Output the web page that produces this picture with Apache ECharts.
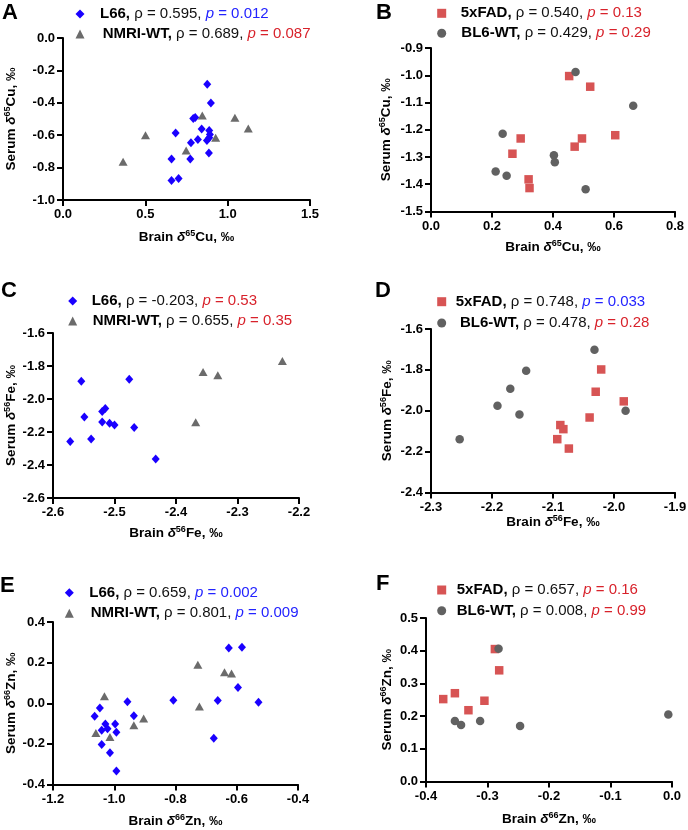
<!DOCTYPE html>
<html><head><meta charset="utf-8">
<script src="https://cdn.jsdelivr.net/npm/echarts@6/dist/echarts.min.js"></script>
<style>html,body{margin:0;padding:0;background:#fff}#c{width:688px;height:830px}</style>
</head><body><div id="c"></div><script>
const FONT = '"Liberation Sans", Arial, Helvetica, sans-serif';
const BLUE = '#1a00ff', GRAYT = '#6b6b6b', RED = '#d75454', GRAYC = '#616161';
const PBLUE = '#2323ff', PRED = '#d8222b';

// ---- data (brain, serum) ----
const cuL66 = [[0.876,-0.285],[0.898,-0.402],[0.791,-0.497],[0.803,-0.490],[0.842,-0.561],[0.888,-0.571],[0.684,-0.587],[0.892,-0.595],[0.888,-0.616],[0.874,-0.632],[0.819,-0.626],[0.777,-0.647],[0.886,-0.710],[0.659,-0.747],[0.773,-0.747],[0.659,-0.879],[0.702,-0.867]];
const cuNMRI = [[0.365,-0.764],[0.501,-0.601],[0.748,-0.694],[0.846,-0.478],[0.927,-0.616],[1.044,-0.493],[1.125,-0.558]];
const cu5xFAD = [[0.453,-1.003],[0.522,-1.042],[0.294,-1.232],[0.495,-1.232],[0.604,-1.220],[0.471,-1.262],[0.267,-1.288],[0.320,-1.382],[0.323,-1.414]];
const cuBL6 = [[0.474,-0.988],[0.663,-1.112],[0.235,-1.215],[0.403,-1.294],[0.406,-1.319],[0.212,-1.353],[0.248,-1.369],[0.507,-1.418]];
const feL66 = [[-2.554,-1.893],[-2.476,-1.881],[-2.515,-2.058],[-2.520,-2.075],[-2.549,-2.109],[-2.520,-2.139],[-2.508,-2.147],[-2.500,-2.157],[-2.468,-2.173],[-2.572,-2.258],[-2.538,-2.242],[-2.433,-2.364]];
const feNMRI = [[-2.356,-1.836],[-2.332,-1.856],[-2.227,-1.770],[-2.368,-2.141]];
const fe5xFAD = [[-2.021,-1.798],[-2.030,-1.907],[-1.984,-1.954],[-2.040,-2.033],[-2.088,-2.070],[-2.083,-2.090],[-2.093,-2.139],[-2.074,-2.185]];
const feBL6 = [[-2.032,-1.701],[-2.144,-1.804],[-2.170,-1.892],[-2.191,-1.976],[-2.155,-2.018],[-1.981,-2.000],[-2.253,-2.139]];
const znL66 = [[-0.626,0.272],[-0.583,0.276],[-0.596,0.077],[-0.957,0.008],[-0.807,0.015],[-0.662,0.013],[-0.529,0.005],[-1.047,-0.023],[-1.064,-0.064],[-0.936,-0.062],[-1.029,-0.102],[-0.997,-0.102],[-1.022,-0.125],[-1.041,-0.133],[-0.993,-0.143],[-0.675,-0.172],[-1.041,-0.203],[-1.014,-0.244],[-0.993,-0.334]];
const znNMRI = [[-0.727,0.190],[-0.640,0.153],[-0.617,0.146],[-1.032,0.034],[-0.722,-0.016],[-0.904,-0.075],[-0.936,-0.108],[-1.060,-0.146],[-1.014,-0.166]];
const zn5xFAD = [[-0.288,0.405],[-0.281,0.340],[-0.353,0.270],[-0.372,0.252],[-0.305,0.247],[-0.331,0.218]];
const znBL6 = [[-0.282,0.406],[-0.353,0.185],[-0.343,0.173],[-0.312,0.185],[-0.247,0.170],[-0.006,0.205]];

// ---- legend statistics ----
const groupNames = ['L66','NMRI-WT','5xFAD','BL6-WT'];
const rhoValues = [['0.595','0.689'],['0.540','0.429'],['-0.203','0.655'],['0.748','0.478'],['0.659','0.801'],['0.657','0.008']];
const pValues   = [['0.012','0.087'],['0.13','0.29'],['0.53','0.35'],['0.033','0.28'],['0.002','0.009'],['0.16','0.99']];
const pSignif   = [[true,false],[false,false],[false,false],[true,false],[true,true],[false,false]];
const panelLetters = ['A','B','C','D','E','F'];
const isotopes = [['65','Cu'],['65','Cu'],['56','Fe'],['56','Fe'],['66','Zn'],['66','Zn']];
const xRanges = [[0,1.5,0.5],[0,0.8,0.2],[-2.6,-2.2,0.1],[-2.3,-1.9,0.1],[-1.2,-0.4,0.2],[-0.4,0,0.1]];
const yRanges = [[-1.0,0,0.2],[-1.5,-0.9,0.1],[-2.6,-1.6,0.2],[-2.4,-1.6,0.2],[-0.4,0.4,0.2],[0,0.5,0.1]];
const panelData = [[cuL66,cuNMRI],[cu5xFAD,cuBL6],[feL66,feNMRI],[fe5xFAD,feBL6],[znL66,znNMRI],[zn5xFAD,znBL6]];

// ---- layout ----
const grids = [
  {left:63, top:38, width:247, height:162},
  {left:431, top:48, width:244, height:163.5},
  {left:53, top:333, width:246, height:165},
  {left:431, top:329, width:244, height:163.5},
  {left:53, top:622, width:245, height:162.5},
  {left:426, top:618, width:246, height:163.5}
];
const xNameGap = [29, 28, 27, 20, 29, 30];
const yNameGap = [44, 37, 34, 36, 34, 31];
const letterPos = [[2,13],[376,12.5],[1,291],[375,290.5],[0,585.5],[376,584]];
// legend rows: [iconCenterX, centerY, textStartX]
const legendPos = [
  [[80,14,100],[80,34,102.7]],
  [[441.7,13.3,460.7],[441.7,33.3,461.3]],
  [[72.7,301,91.7],[72.7,321,92.7]],
  [[441.7,301.7,455.7],[441.7,323,460]],
  [[69.3,592.7,89.3],[69.3,613.3,90.7]],
  [[441.7,590,456.7],[441.7,610.7,456.7]]
];

function fmt(v){ let s = Number(v).toFixed(1); if (s === '-0.0') s = '0.0'; return s; }
const titleRich = {
  t:{fontSize:13.5,fontWeight:'bold',fontFamily:FONT,color:'#000',lineHeight:16},
  d:{fontSize:13.5,fontWeight:'bold',fontStyle:'italic',fontFamily:FONT,color:'#000',lineHeight:16},
  s:{fontSize:9,fontWeight:'bold',fontFamily:FONT,color:'#000',padding:[0,0,7,0]}
};
const labelStyle = {show:true,color:'#000',fontWeight:'bold',fontSize:13,fontFamily:FONT,formatter:fmt,showMinLabel:true,showMaxLabel:true,hideOverlap:false};
const lineStyle = {color:'#000',width:2};

const xAxes = [], yAxes = [], series = [], legends = [], graphics = [];
for (let i = 0; i < 6; i++) {
  const [iso, el] = isotopes[i];
  xAxes.push({type:'value',gridIndex:i,min:xRanges[i][0],max:xRanges[i][1],interval:xRanges[i][2],
    name:`{t|Brain }{d|δ}{s|${iso}}{t|${el}, ‰}`,nameLocation:'middle',nameGap:xNameGap[i],
    nameTextStyle:{rich:titleRich},
    axisLine:{show:true,onZero:false,lineStyle},axisTick:{show:true,inside:false,length:6,lineStyle},
    axisLabel:Object.assign({margin:8},labelStyle),splitLine:{show:false}});
  yAxes.push({type:'value',gridIndex:i,min:yRanges[i][0],max:yRanges[i][1],interval:yRanges[i][2],
    name:`{t|Serum }{d|δ}{s|${iso}}{t|${el}, ‰}`,nameLocation:'middle',nameGap:yNameGap[i],nameRotate:90,
    nameTextStyle:{rich:titleRich},
    axisLine:{show:true,onZero:false,lineStyle},axisTick:{show:true,inside:false,length:6,lineStyle},
    axisLabel:Object.assign({margin:8},labelStyle),splitLine:{show:false}});
  const mouse = i % 2 === 0; // L66/NMRI panels left, 5xFAD/BL6 right
  const names = mouse ? [groupNames[0],groupNames[1]] : [groupNames[2],groupNames[3]];
  const symbols = mouse ? ['diamond','triangle'] : ['rect','circle'];
  const sizes = mouse ? [[8,9],[9,8]] : [[8.5,8.5],[8.5,8.5]];
  const colors = mouse ? [BLUE,GRAYT] : [RED,GRAYC];
  for (let k = 0; k < 2; k++) {
    const sname = panelLetters[i] + '-' + names[k];
    series.push({type:'scatter',name:sname,xAxisIndex:i,yAxisIndex:i,data:panelData[i][k],
      symbol:symbols[k],symbolSize:sizes[k],itemStyle:{color:colors[k],opacity:1},z:2+k,
      emphasis:{disabled:true},animation:false});
    const [cx, cy, tx] = legendPos[i][k];
    const iw = 9;
    const pad = tx - (cx - iw/2) - iw - 5;
    const pc = pSignif[i][k] ? PBLUE : PRED;
    legends.push({data:[sname],left:cx - iw/2,top:cy - 9,padding:0,itemWidth:iw,itemHeight:9,
      selectedMode:false,orient:'horizontal',
      formatter:() => `{n|${names[k]},}{r| ρ = ${rhoValues[i][k]}, }{pi|p}{pv| = ${pValues[i][k]}}`,
      textStyle:{fontSize:15,fontFamily:FONT,color:'#000',lineHeight:18,rich:{
        n:{fontSize:15,fontWeight:'bold',fontFamily:FONT,color:'#000',lineHeight:18,padding:[0,0,0,pad]},
        r:{fontSize:15,fontFamily:FONT,color:'#111',lineHeight:18},
        pi:{fontSize:15,fontStyle:'italic',fontFamily:FONT,color:pc,lineHeight:18},
        pv:{fontSize:15,fontFamily:FONT,color:pc,lineHeight:18}
      }}});
  }
  graphics.push({type:'text',left:letterPos[i][0],top:letterPos[i][1]-11,
    style:{text:panelLetters[i],fontSize:22,fontWeight:'bold',fontFamily:FONT,fill:'#000'}});
}

const chart = echarts.init(document.getElementById('c'), null, {renderer:'canvas'});
chart.setOption({
  animation:false,
  backgroundColor:'#fff',
  grid:grids.map(g => Object.assign({containLabel:false,outerBoundsMode:'none',show:false}, g)),
  xAxis:xAxes, yAxis:yAxes, series, legend:legends, graphic:graphics
});
</script></body></html>
